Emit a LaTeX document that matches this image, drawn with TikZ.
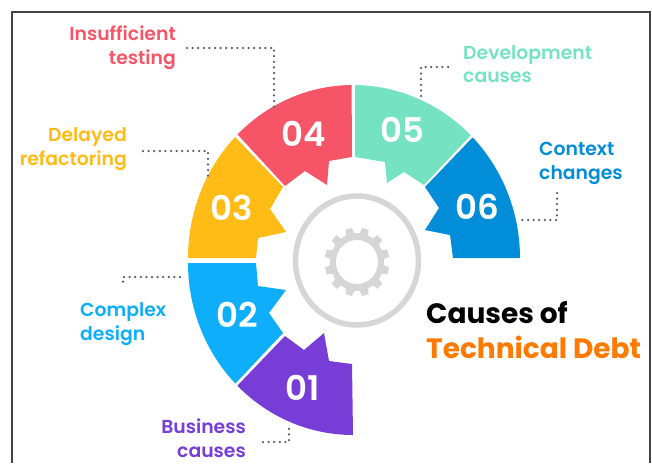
\documentclass[tikz,border=0pt]{standalone}
\usepackage{fontspec}
\setmainfont{Poppins}
\newfontfamily\labelfont{Poppins SemiBold}
\newfontfamily\numfont{Poppins SemiBold}
\definecolor{cRed}{HTML}{F55567}
\definecolor{cGreen}{HTML}{75E3C1}
\definecolor{cYellow}{HTML}{FFBB16}
\definecolor{cDeep}{HTML}{028DD8}
\definecolor{cSky}{HTML}{0EAEFB}
\definecolor{cPurple}{HTML}{773DD6}
\definecolor{cOrange}{HTML}{FF7A00}
\definecolor{cGear}{HTML}{D6D6D6}
\definecolor{cFrame}{HTML}{444444}
\definecolor{cDot}{HTML}{5A5A66}
\tikzset{
  num/.style={text=white,font=\numfont\fontsize{34}{34}\selectfont,inner sep=0pt},
  lab/.style={font=\labelfont\fontsize{18.8}{18.8}\selectfont,inner sep=0pt},
  ttl/.style={font=\bfseries\fontsize{28}{28}\selectfont,inner sep=0pt},
  dots/.style={cDot,line width=2.5pt,line cap=round,dash pattern=on 0pt off 5.6pt},
  arcs/.style={samples=24},
}
\begin{document}
\begin{tikzpicture}[x=1pt,y=-1pt]
\useasboundingbox (0,0) rectangle (652,463);
\fill[white] (0,0) rectangle (652,463);
\draw[cFrame,line width=1.5pt] (12,463) -- (12,12) -- (650,12) -- (650,463);
% segments
\fill[cYellow] (188,258) -- plot[arcs,domain=180:135.6] ({353+165*cos(\x)},{258-173*sin(\x)}) -- (283,187) -- (270,209) -- (286,232) -- (258,238) -- (256,258) -- cycle;
\fill[cRed] (238,135) -- plot[arcs,domain=134.4:90.5] ({353+165*cos(\x)},{258-173*sin(\x)}) -- (352,157) -- (329,161) -- (327,185) -- (305,171) -- (285,186) -- cycle;
\fill[cGreen] (355,85) -- plot[arcs,domain=89.5:45.2] ({353+167*cos(\x)},{258-173*sin(\x)}) -- (424,185) -- (404,172) -- (387,183) -- (385,162) -- (355,157) -- cycle;
\fill[cDeep] (472,138) -- plot[arcs,domain=44:0] ({353+167*cos(\x)},{258-173*sin(\x)}) -- (453,258) -- (450,235) -- (425,230) -- (439,208) -- (425,187) -- cycle;
\fill[cSky] (188,263) -- plot[arcs,domain=180:224.5] ({353+165*cos(\x)},{263-172*sin(\x)}) -- (283,333) -- (269,313) -- (286,290) -- (258,286) -- (256,263) -- cycle;
\fill[cPurple] (238,385) -- plot[arcs,domain=225.5:270] ({353+165*cos(\x)},{263-172*sin(\x)}) -- (352,364) -- (329,361) -- (324,333) -- (304,350) -- (285,336) -- cycle;
% gear
\draw[cGear,line width=5.5pt] (357,260.5) ellipse [x radius=61.5,y radius=64.5];
\fill[cGear] ({357+27*cos(6)},{262-29*sin(6)})
  \foreach \k in {0,...,11} {
    -- ({357+27*cos(6+30*\k)},{262-29*sin(6+30*\k)})
    -- ({357+32.5*cos(9+30*\k)},{262-34.5*sin(9+30*\k)})
    -- ({357+32.5*cos(21+30*\k)},{262-34.5*sin(21+30*\k)})
    -- ({357+27*cos(24+30*\k)},{262-29*sin(24+30*\k)})
  } -- cycle;
\fill[white] (357,262) ellipse [x radius=21,y radius=22];
% numbers
\node[num] (n4) at (304,134) {04};
\node[num] (n5) at (402,130) {05};
\node[num] (n3) at (232,208) {03};
\node[num] (n6) at (477,207) {06};
\node[num] (n2) at (237,315) {02};
\node[num] (n1) at (303,388) {01};
% labels
\node[lab,text=cRed,anchor=base east] (l4a) at (176,40) {Insufficient};
\node[lab,text=cRed,anchor=base east] (l4b) at (176,64) {testing};
\node[lab,text=cYellow,anchor=base east] (l3a) at (127,141) {Delayed};
\node[lab,text=cYellow,anchor=base east] (l3b) at (127,165) {refactoring};
\node[lab,text=cGreen,anchor=base west] (l5a) at (463,59) {Development};
\node[lab,text=cGreen,anchor=base west] (l5b) at (463,82) {causes};
\node[lab,text=cDeep,anchor=base west] (l6a) at (539,155) {Context};
\node[lab,text=cDeep,anchor=base west] (l6b) at (539,179) {changes};
\node[lab,text=cSky,anchor=base west] (l2a) at (80,316) {Complex};
\node[lab,text=cSky,anchor=base west] (l2b) at (80,340) {design};
\node[lab,text=cPurple,anchor=base east] (l1a) at (246,433) {Business};
\node[lab,text=cPurple,anchor=base east] (l1b) at (246,457) {causes};
\node[ttl,text=black,anchor=base west] (t1) at (426,323) {Causes of};
\node[ttl,text=cOrange,anchor=base west] (t2) at (426,358) {Technical Debt};
% connector ends
\coordinate (a4) at (187,48); \coordinate (b4) at (274,107);
\coordinate (a3) at (143,151); \coordinate (b3) at (208,178);
\coordinate (a5) at (448,67); \coordinate (b5) at (421,100);
\coordinate (a6) at (557,193); \coordinate (b6) at (517,220);
\coordinate (a2) at (180,277); \coordinate (b2) at (123,287);
\coordinate (a1) at (263,442); \coordinate (b1) at (289,428);
\draw[dots] (a4) -| (b4);
\draw[dots] (a3) -| (b3);
\draw[dots] (a5) -| (b5);
\draw[dots] (a6) |- (b6);
\draw[dots] (a2) -| (b2);
\draw[dots] (a1) -| (b1);
\end{tikzpicture}
\end{document}
